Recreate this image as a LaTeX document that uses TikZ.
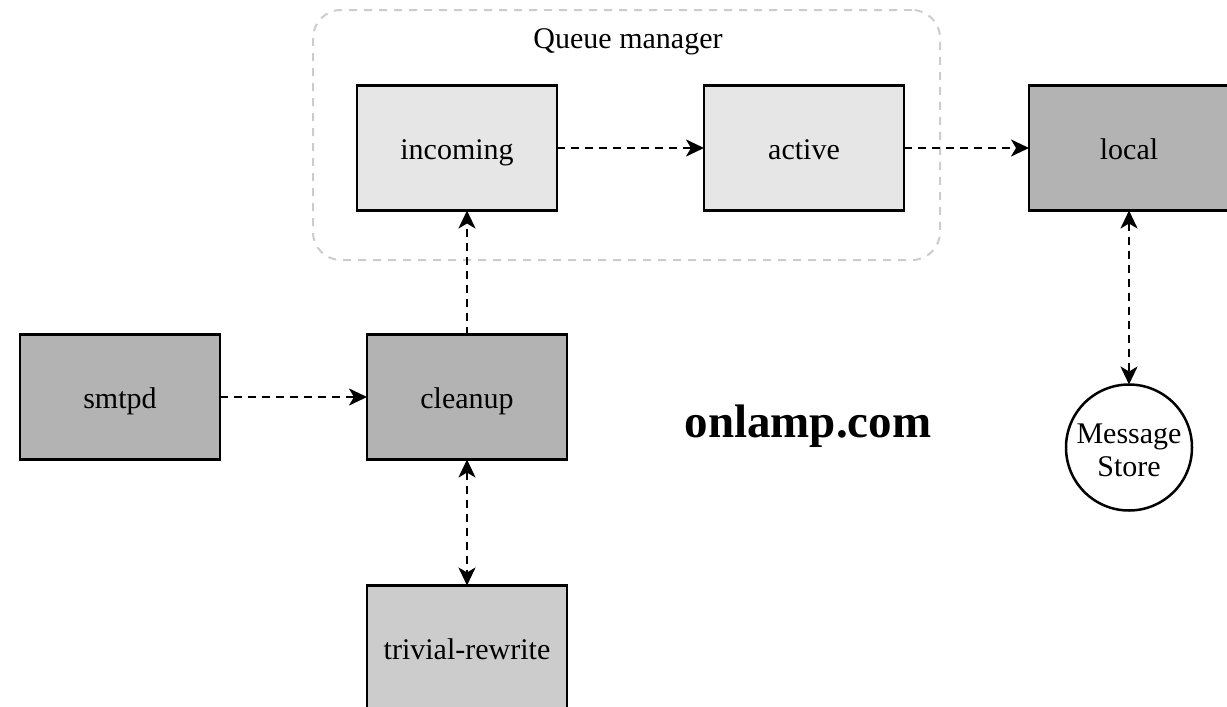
\documentclass[tikz,border=0pt]{standalone}
\usepackage{fontspec}
\setmainfont{Liberation Serif}
\usetikzlibrary{positioning,arrows.meta}

\definecolor{darkbox}{HTML}{B3B3B3}
\definecolor{lightbox}{HTML}{E6E6E6}
\definecolor{midbox}{HTML}{CCCCCC}
\definecolor{groupline}{HTML}{CCCCCC}

\begin{document}
\begin{tikzpicture}[x=1pt,y=-1pt,>={Stealth[length=18pt,width=17pt,inset=5pt]}]
        \tikzstyle{proc} = [draw, line width=2.5pt, minimum width=200pt, minimum height=125pt, inner sep=0pt, outer sep=0pt, text height=27pt, text depth=5pt, font=\fontsize{30pt}{33pt}\selectfont]
        \tikzstyle{flow} = [line width=2.5pt, dash pattern=on 8pt off 6pt]
        \useasboundingbox (0,0) rectangle (1227,707);
        \clip (0,0) rectangle (1227,707);
        \node[draw=groupline, line width=2pt, dash pattern=on 8pt off 7pt, rounded corners=28pt, minimum width=627pt, minimum height=250pt](qm) at (626.5,135){};
        \node[anchor=base, font=\fontsize{30pt}{33pt}\selectfont](qmlabel) at (628,48){Queue manager};
        \node[proc, fill=lightbox](incoming) at (457,148){incoming};
        \node[proc, fill=lightbox](active)[right=147pt of incoming]{active};
        \node[proc, fill=darkbox](local)[right=125pt of active]{local};
        \node[proc, fill=darkbox](cleanup)[below=124pt of incoming, xshift=10pt]{cleanup};
        \node[proc, fill=darkbox](smtpd)[left=147pt of cleanup]{smtpd};
        \node[proc, fill=midbox](rewrite)[below=126pt of cleanup]{trivial-rewrite};
        \node[draw, circle, line width=2.5pt, minimum size=126pt, inner sep=0pt, outer sep=0pt, font=\fontsize{30pt}{33pt}\selectfont](msgstore)[below=174pt of local]{\raisebox{-12pt}[0pt][0pt]{\begin{tabular}{@{}c@{}}Message\\Store\end{tabular}}};
        \node[anchor=base, font=\fontsize{47pt}{50pt}\selectfont\bfseries](site) at (808,437){onlamp.com};
        \draw[flow,->] (smtpd.east) -- (cleanup.west);
        \draw[flow,->] (cleanup.north) -- (cleanup.north |- incoming.south);
        \draw[flow,->] (incoming.east) -- (active.west);
        \draw[flow,->] (active.east) -- (local.west);
        \draw[flow,<->] (cleanup.south) -- (rewrite.north);
        \draw[flow,<->] (local.south) -- (msgstore.north);
    \end{tikzpicture}
\end{document}
